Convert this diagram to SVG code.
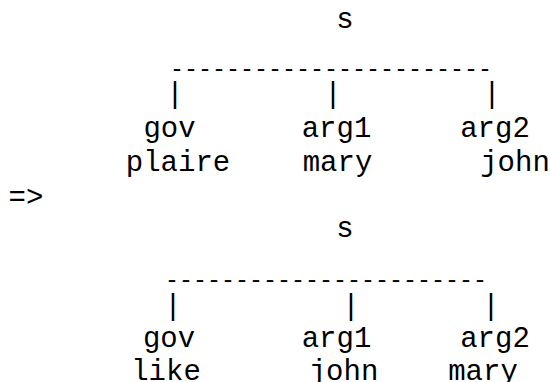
<svg xmlns="http://www.w3.org/2000/svg" width="550" height="382" viewBox="0 0 550 382">
<style>
text { font-family: 'Liberation Mono', 'Courier New', monospace; font-size: 29px; fill: #000; }
.m { text-anchor: middle; }
.dash { font-size: 23.3px; }
.bar { font-size: 29px; text-anchor: middle; }
</style>
<rect width="550" height="382" fill="#fff"/>
<g id="tree1">
  <g id="t1-s"><text class="m" x="345" y="28">s</text></g>
  <g id="t1-connectors">
    <text class="dash" x="170" y="76" textLength="322" lengthAdjust="spacing">-----------------------</text>
    <text class="bar" x="175" y="103">|</text>
    <text class="bar" x="333" y="103">|</text>
    <text class="bar" x="492" y="103">|</text>
  </g>
  <g id="t1-gov"><text class="m" x="169.5" y="137">gov</text><text class="m" x="178" y="171">plaire</text></g>
  <g id="t1-arg1"><text class="m" x="336.5" y="137">arg1</text><text class="m" x="337.5" y="171">mary</text></g>
  <g id="t1-arg2"><text class="m" x="495" y="137">arg2</text><text class="m" x="515" y="171">john</text></g>
</g>
<g id="arrow"><text class="m" x="26" y="206">=&gt;</text></g>
<g id="tree2">
  <g id="t2-s"><text class="m" x="345" y="237">s</text></g>
  <g id="t2-connectors">
    <text class="dash" x="165" y="287" textLength="322" lengthAdjust="spacing">-----------------------</text>
    <text class="bar" x="173" y="315">|</text>
    <text class="bar" x="351" y="315">|</text>
    <text class="bar" x="491" y="315">|</text>
  </g>
  <g id="t2-gov"><text class="m" x="169" y="347">gov</text><text class="m" x="166" y="380">like</text></g>
  <g id="t2-arg1"><text class="m" x="336.5" y="347">arg1</text><text class="m" x="343.5" y="380">john</text></g>
  <g id="t2-arg2"><text class="m" x="495" y="347">arg2</text><text class="m" x="483" y="380">mary</text></g>
</g>
</svg>
